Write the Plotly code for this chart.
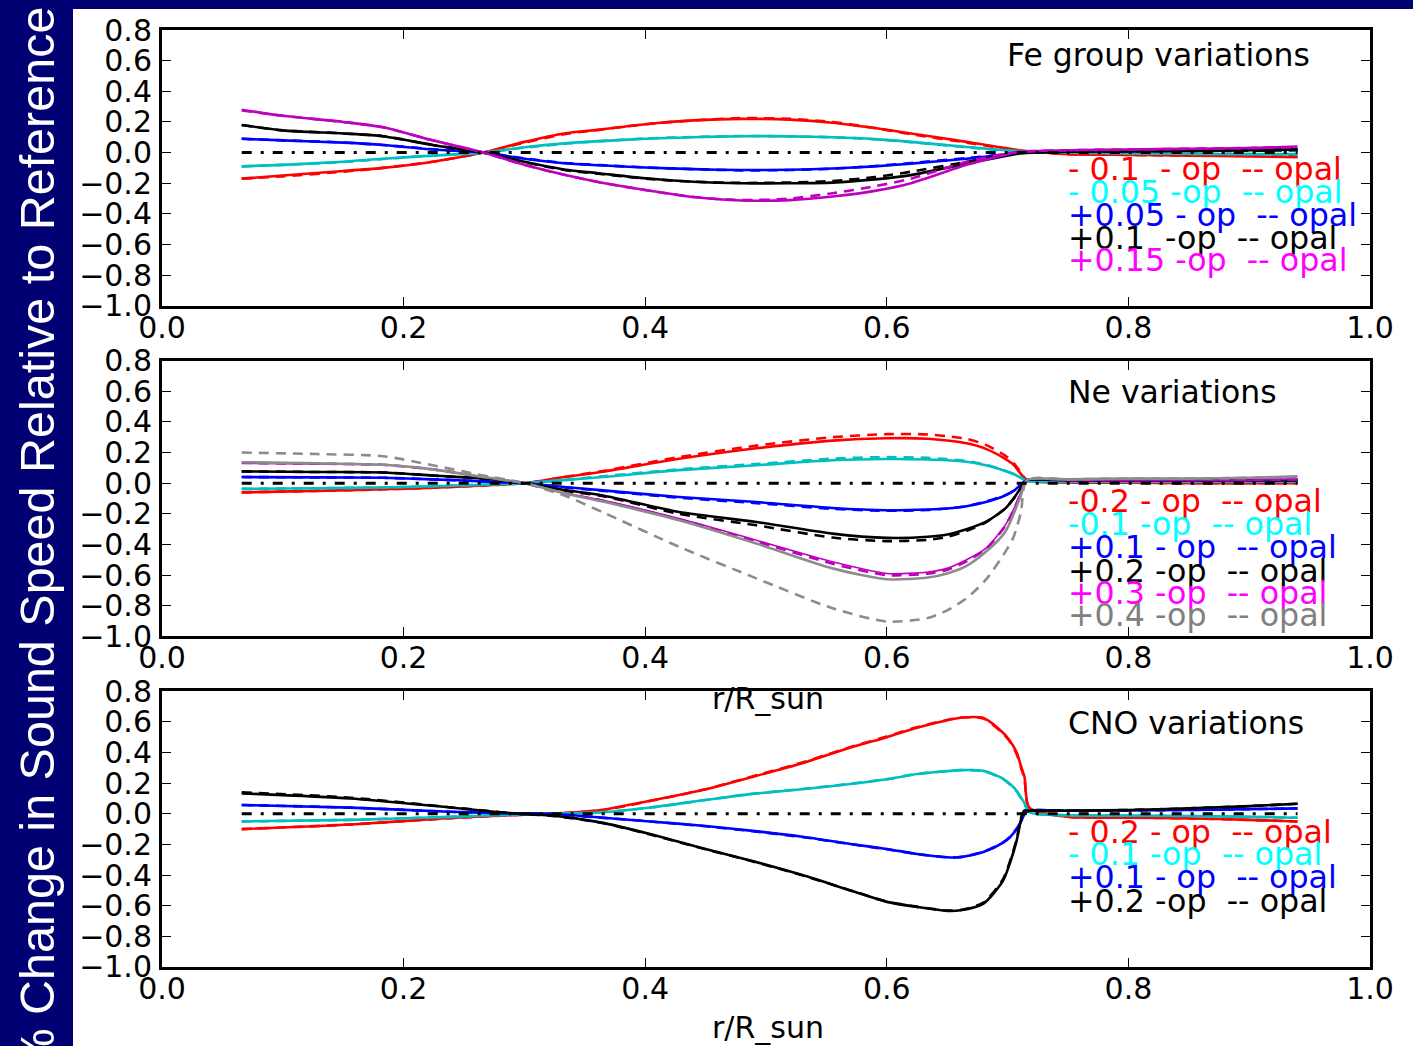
import plotly.graph_objects as go

# ---------------- data ----------------
X_TICKS = [0.0, 0.2, 0.4, 0.6, 0.8, 1.0]
Y_TICKS = [-1.0, -0.8, -0.6, -0.4, -0.2, 0.0, 0.2, 0.4, 0.6, 0.8]
ZERO_X = [0.066, 0.94]
ZERO_Y = [0.0, 0.0]

# Panel 1: Fe group variations
R_FE = [0.066, 0.1, 0.15, 0.183, 0.224, 0.266, 0.3, 0.333, 0.363, 0.4, 0.44, 0.48,
        0.52, 0.555, 0.59, 0.62, 0.666, 0.69, 0.71, 0.75, 0.8, 0.85, 0.9, 0.94]
FE_M010_OP = [-0.17, -0.15, -0.12, -0.10, -0.06, 0.0, 0.07, 0.125, 0.15, 0.185, 0.21, 0.22,
              0.215, 0.195, 0.16, 0.125, 0.07, 0.04, 0.015, -0.01, -0.015, -0.02, -0.025, -0.03]
FE_M010_OPAL = [-0.17, -0.155, -0.125, -0.10, -0.06, 0.0, 0.065, 0.12, 0.15, 0.185, 0.21, 0.225,
                0.22, 0.2, 0.16, 0.12, 0.065, 0.035, 0.012, -0.01, -0.015, -0.02, -0.02, -0.025]
FE_M005_OP = [-0.09, -0.08, -0.06, -0.04, -0.02, 0.0, 0.035, 0.06, 0.075, 0.09, 0.1, 0.107,
              0.106, 0.1, 0.088, 0.07, 0.037, 0.02, 0.01, 0.0, -0.005, -0.008, -0.01, -0.01]
FE_M005_OPAL = [-0.09, -0.08, -0.062, -0.042, -0.02, 0.0, 0.032, 0.058, 0.075, 0.092, 0.102, 0.108,
                0.106, 0.1, 0.087, 0.068, 0.035, 0.018, 0.008, 0.0, -0.005, -0.008, -0.01, -0.012]
FE_P005_OP = [0.09, 0.08, 0.065, 0.05, 0.02, 0.0, -0.04, -0.07, -0.083, -0.097, -0.108, -0.114,
              -0.112, -0.104, -0.09, -0.072, -0.04, -0.02, 0.0, 0.01, 0.012, 0.015, 0.02, 0.025]
FE_P005_OPAL = [0.09, 0.08, 0.066, 0.05, 0.022, 0.0, -0.038, -0.068, -0.082, -0.097, -0.108, -0.116,
                -0.114, -0.105, -0.088, -0.068, -0.036, -0.017, 0.0, 0.01, 0.012, 0.015, 0.018, 0.02]
FE_P010_OP = [0.18, 0.145, 0.125, 0.107, 0.05, 0.0, -0.06, -0.11, -0.136, -0.168, -0.19, -0.2,
              -0.2, -0.196, -0.175, -0.147, -0.072, -0.035, -0.005, 0.005, 0.008, 0.01, 0.015, 0.02]
FE_P010_OPAL = [0.18, 0.145, 0.125, 0.107, 0.05, 0.0, -0.062, -0.114, -0.14, -0.17, -0.19, -0.198,
                -0.195, -0.185, -0.16, -0.125, -0.06, -0.028, -0.003, 0.005, 0.008, 0.01, 0.012, 0.015]
FE_P015_OP = [0.28, 0.24, 0.2, 0.165, 0.08, 0.0, -0.08, -0.145, -0.195, -0.244, -0.29, -0.313,
              -0.31, -0.287, -0.25, -0.2, -0.08, -0.03, 0.005, 0.015, 0.02, 0.025, 0.03, 0.04]
FE_P015_OPAL = [0.275, 0.24, 0.2, 0.165, 0.08, 0.0, -0.08, -0.145, -0.195, -0.244, -0.29, -0.31,
                -0.3, -0.265, -0.22, -0.17, -0.06, -0.02, 0.005, 0.015, 0.02, 0.025, 0.03, 0.035]

# Panel 2: Ne variations
R_NE = [0.066, 0.128, 0.183, 0.224, 0.266, 0.30, 0.333, 0.365, 0.428, 0.492, 0.555, 0.60,
        0.634, 0.65, 0.666, 0.682, 0.698, 0.705, 0.711, 0.716, 0.75, 0.8, 0.85, 0.9, 0.94]
NE_M02_OP = [-0.06, -0.05, -0.04, -0.03, -0.015, 0.0, 0.04, 0.075, 0.159, 0.228, 0.278, 0.293,
             0.29, 0.278, 0.26, 0.224, 0.159, 0.12, 0.06, 0.02, 0.005, 0.003, 0.0, 0.0, 0.0]
NE_M02_OPAL = [-0.06, -0.05, -0.04, -0.03, -0.015, 0.0, 0.04, 0.08, 0.17, 0.245, 0.3, 0.32,
               0.318, 0.306, 0.29, 0.25, 0.18, 0.13, 0.07, 0.02, 0.005, 0.003, 0.0, 0.0, 0.0]
NE_M01_OP = [-0.037, -0.033, -0.028, -0.02, -0.01, 0.0, 0.02, 0.04, 0.085, 0.117, 0.15, 0.158,
             0.155, 0.15, 0.14, 0.117, 0.08, 0.06, 0.035, 0.015, 0.01, 0.01, 0.01, 0.01, 0.01]
NE_M01_OPAL = [-0.037, -0.033, -0.028, -0.02, -0.01, 0.0, 0.022, 0.045, 0.09, 0.125, 0.16, 0.17,
               0.165, 0.157, 0.145, 0.12, 0.082, 0.06, 0.035, 0.015, 0.01, 0.01, 0.01, 0.01, 0.01]
NE_P01_OP = [0.04, 0.038, 0.035, 0.025, 0.012, 0.0, -0.025, -0.047, -0.09, -0.123, -0.162, -0.177,
             -0.172, -0.165, -0.15, -0.123, -0.08, -0.05, -0.01, 0.02, 0.02, 0.02, 0.02, 0.02, 0.02]
NE_P01_OPAL = [0.04, 0.038, 0.035, 0.025, 0.012, 0.0, -0.027, -0.05, -0.095, -0.13, -0.168, -0.18,
               -0.175, -0.165, -0.15, -0.12, -0.078, -0.05, -0.01, 0.02, 0.02, 0.02, 0.02, 0.02, 0.02]
NE_P02_OP = [0.077, 0.073, 0.07, 0.05, 0.03, 0.0, -0.045, -0.08, -0.188, -0.253, -0.329, -0.357,
             -0.35, -0.335, -0.3, -0.253, -0.166, -0.1, -0.03, 0.02, 0.02, 0.02, 0.02, 0.02, 0.02]
NE_P02_OPAL = [0.077, 0.073, 0.07, 0.05, 0.03, 0.0, -0.05, -0.085, -0.2, -0.275, -0.355, -0.378,
               -0.37, -0.35, -0.31, -0.255, -0.165, -0.1, -0.03, 0.02, 0.02, 0.02, 0.02, 0.02, 0.02]
NE_P03_OP = [0.13, 0.125, 0.12, 0.09, 0.04, 0.0, -0.065, -0.112, -0.231, -0.372, -0.513, -0.589,
             -0.58, -0.556, -0.5, -0.426, -0.274, -0.17, -0.06, 0.02, 0.02, 0.02, 0.02, 0.02, 0.025]
NE_P03_OPAL = [0.132, 0.127, 0.12, 0.09, 0.04, 0.0, -0.066, -0.115, -0.236, -0.38, -0.525, -0.6,
               -0.59, -0.566, -0.51, -0.43, -0.28, -0.175, -0.065, 0.02, 0.02, 0.02, 0.02, 0.02, 0.025]
NE_P04_OP = [0.137, 0.13, 0.12, 0.09, 0.04, 0.0, -0.065, -0.12, -0.242, -0.394, -0.556, -0.627,
             -0.615, -0.589, -0.54, -0.448, -0.318, -0.2, -0.08, 0.02, 0.025, 0.03, 0.03, 0.035, 0.045]
NE_P04_OPAL = [0.2, 0.19, 0.176, 0.117, 0.05, 0.0, -0.08, -0.19, -0.415, -0.621, -0.816, -0.903,
               -0.88, -0.83, -0.751, -0.63, -0.45, -0.35, -0.19, 0.02, 0.025, 0.03, 0.03, 0.035, 0.04]

# Panel 3: CNO variations
R_CNO = [0.066, 0.156, 0.238, 0.294, 0.321, 0.363, 0.404, 0.45, 0.487, 0.53, 0.570, 0.60, 0.625,
         0.65, 0.661, 0.68, 0.696, 0.702, 0.7075, 0.7115, 0.714, 0.718, 0.75, 0.8, 0.85, 0.9, 0.94]
CNO_M02_OP = [-0.1, -0.07, -0.028, -0.008, 0.0, 0.024, 0.085, 0.16, 0.237, 0.33, 0.432, 0.5, 0.561,
              0.61, 0.627, 0.625, 0.53, 0.475, 0.4, 0.3, 0.24, 0.04, -0.02, -0.025, -0.03, -0.04, -0.05]
CNO_M02_OPAL = [-0.1, -0.07, -0.03, -0.008, 0.0, 0.022, 0.083, 0.16, 0.24, 0.335, 0.435, 0.505, 0.565,
                0.612, 0.628, 0.622, 0.525, 0.47, 0.39, 0.29, 0.23, 0.035, -0.02, -0.025, -0.03, -0.04, -0.05]
CNO_M01_OP = [-0.05, -0.04, -0.02, -0.005, 0.0, 0.009, 0.041, 0.09, 0.128, 0.16, 0.194, 0.225, 0.259,
              0.278, 0.285, 0.28, 0.23, 0.194, 0.15, 0.1, 0.07, 0.01, -0.01, -0.012, -0.015, -0.02, -0.026]
CNO_M01_OPAL = [-0.05, -0.04, -0.02, -0.005, 0.0, 0.009, 0.04, 0.09, 0.128, 0.162, 0.196, 0.226, 0.26,
                0.279, 0.285, 0.278, 0.228, 0.19, 0.145, 0.095, 0.065, 0.01, -0.01, -0.012, -0.015, -0.02, -0.026]
CNO_P01_OP = [0.057, 0.04, 0.013, 0.003, 0.0, -0.024, -0.05, -0.08, -0.11, -0.15, -0.197, -0.23, -0.262,
              -0.284, -0.283, -0.25, -0.19, -0.153, -0.1, -0.046, 0.0, 0.02, 0.02, 0.022, 0.025, 0.03, 0.035]
CNO_P01_OPAL = [0.057, 0.04, 0.013, 0.003, 0.0, -0.025, -0.05, -0.082, -0.112, -0.152, -0.198, -0.232, -0.263,
                -0.284, -0.282, -0.248, -0.188, -0.15, -0.098, -0.044, 0.0, 0.02, 0.02, 0.022, 0.025, 0.03, 0.035]
CNO_P02_OP = [0.133, 0.10, 0.041, 0.0, -0.01, -0.056, -0.132, -0.23, -0.305, -0.4, -0.5, -0.575, -0.608,
              -0.634, -0.63, -0.586, -0.44, -0.32, -0.175, -0.024, 0.02, 0.02, 0.02, 0.025, 0.035, 0.05, 0.065]
CNO_P02_OPAL = [0.14, 0.105, 0.043, 0.0, -0.012, -0.058, -0.135, -0.232, -0.307, -0.402, -0.5, -0.573, -0.606,
                -0.632, -0.628, -0.58, -0.43, -0.31, -0.165, -0.02, 0.02, 0.02, 0.02, 0.025, 0.035, 0.05, 0.065]

FE_LABELS = ["- 0.1  - op  -- opal", "- 0.05 -op  -- opal", "+0.05 - op  -- opal",
             "+0.1  -op  -- opal", "+0.15 -op  -- opal"]
NE_LABELS = ["-0.2 - op  -- opal", "-0.1 -op  -- opal", "+0.1 - op  -- opal",
             "+0.2 -op  -- opal", "+0.3 -op  -- opal", "+0.4 -op  -- opal"]
CNO_LABELS = ["- 0.2 - op  -- opal", "- 0.1 -op  -- opal", "+0.1 - op  -- opal", "+0.2 -op  -- opal"]
PANEL_TITLES = ["Fe group variations", "Ne variations", "CNO variations"]
X_TITLE = "r/R_sun"
Y_TITLE = "% Change in Sound Speed Relative to Reference"

# ---------------- styles ----------------
LINE_COLORS = {"red": "#ff0000", "cyan": "#00bfbf", "blue": "#0000ff",
               "black": "#000000", "magenta": "#bf00bf", "grey": "#8c8c8c"}
TEXT_COLORS = {"red": "#ff0000", "cyan": "#00ffff", "blue": "#0000ff",
               "black": "#000000", "magenta": "#ff00ff", "grey": "#808080"}
NAVY = "#000072"
FONT = "DejaVu Sans"

panels = [
    dict(x=R_FE, series=[("red", FE_M010_OP, FE_M010_OPAL), ("cyan", FE_M005_OP, FE_M005_OPAL),
                         ("blue", FE_P005_OP, FE_P005_OPAL), ("black", FE_P010_OP, FE_P010_OPAL),
                         ("magenta", FE_P015_OP, FE_P015_OPAL)],
         labels=FE_LABELS, label_y=[166, 189, 212, 235, 257], title=PANEL_TITLES[0],
         title_px=(1005, 51)),
    dict(x=R_NE, series=[("red", NE_M02_OP, NE_M02_OPAL), ("cyan", NE_M01_OP, NE_M01_OPAL),
                         ("blue", NE_P01_OP, NE_P01_OPAL), ("black", NE_P02_OP, NE_P02_OPAL),
                         ("magenta", NE_P03_OP, NE_P03_OPAL), ("grey", NE_P04_OP, NE_P04_OPAL)],
         labels=NE_LABELS, label_y=[499, 522, 545, 569, 591, 613], title=PANEL_TITLES[1],
         title_px=(1066, 390)),
    dict(x=R_CNO, series=[("red", CNO_M02_OP, CNO_M02_OPAL), ("cyan", CNO_M01_OP, CNO_M01_OPAL),
                          ("blue", CNO_P01_OP, CNO_P01_OPAL), ("black", CNO_P02_OP, CNO_P02_OPAL)],
         labels=CNO_LABELS, label_y=[831, 854, 877, 901], title=PANEL_TITLES[2],
         title_px=(1066, 722)),
]

W, H = 1413, 1046
ML, MR, MT, MB = 162, 43, 26, 79
PW, PH = W - ML - MR, H - MT - MB
PANEL_TOPS = [26, 358, 690]
PANEL_H = 277


def pxx(px):
    return (px - ML) / PW


def pxy(py):
    return (H - MB - py) / PH


fig = go.Figure()
annotations = []
layout_axes = {}

for i, p in enumerate(panels):
    n = "" if i == 0 else str(i + 1)
    xa, ya = "x" + n, "y" + n
    for cname, op, opal in p["series"]:
        lw = 1.6 if (i == 1 and cname == "magenta") else 2.6
        fig.add_trace(go.Scatter(x=p["x"], y=op, mode="lines", xaxis=xa, yaxis=ya,
                                 line=dict(color=LINE_COLORS[cname], width=lw,
                                           shape="spline", smoothing=0.7),
                                 showlegend=False, hoverinfo="skip"))
        fig.add_trace(go.Scatter(x=p["x"], y=opal, mode="lines", xaxis=xa, yaxis=ya,
                                 line=dict(color=LINE_COLORS[cname], width=2.6, dash="10px,7px",
                                           shape="spline", smoothing=0.7),
                                 showlegend=False, hoverinfo="skip"))
    fig.add_trace(go.Scatter(x=ZERO_X, y=ZERO_Y, mode="lines", xaxis=xa, yaxis=ya,
                             line=dict(color="black", width=3, dash="10px,9px,3px,9px"),
                             showlegend=False, hoverinfo="skip"))

    top = PANEL_TOPS[i]
    dom = [pxy(top + PANEL_H), pxy(top)]
    axis_common = dict(showline=True, linecolor="black", linewidth=3, mirror="ticks",
                       ticks="inside", ticklen=9, tickwidth=1, tickcolor="black",
                       showgrid=False, zeroline=False, tickformat=".1f",
                       tickfont=dict(family=FONT, size=30, color="black"))
    layout_axes["xaxis" + n] = dict(axis_common, range=[0, 1], tickvals=X_TICKS,
                                    domain=[0, 1], anchor=ya, ticklabelstandoff=-7)
    layout_axes["yaxis" + n] = dict(axis_common, range=[-1.0, 0.8], tickvals=Y_TICKS,
                                    domain=dom, anchor=xa, ticklabelstandoff=1)

    for lab, cname, ly in zip(p["labels"], [s[0] for s in p["series"]], p["label_y"]):
        annotations.append(dict(text=lab.replace(" ", "\u00a0"), xref="paper", yref="paper",
                                x=pxx(1066), y=pxy(ly), xanchor="left", yanchor="middle",
                                showarrow=False,
                                font=dict(family=FONT, size=31.7, color=TEXT_COLORS[cname])))
    tx, ty = p["title_px"]
    annotations.append(dict(text=p["title"], xref="paper", yref="paper", x=pxx(tx), y=pxy(ty),
                            xanchor="left", yanchor="middle", showarrow=False,
                            font=dict(family=FONT, size=31.5, color="black")))

# x-axis titles
for cy in [697, 1028]:
    annotations.append(dict(text=X_TITLE, xref="paper", yref="paper", x=pxx(768), y=pxy(cy),
                            xanchor="center", yanchor="middle", showarrow=False,
                            font=dict(family=FONT, size=30, color="black")))

# vertical label on navy strip
annotations.append(dict(text=Y_TITLE, xref="paper", yref="paper", x=pxx(37), y=pxy(1),
                        xanchor="center", yanchor="top", textangle=-90, showarrow=False,
                        font=dict(family="Liberation Sans, Arial", size=48.5, color="white")))

shapes = [
    dict(type="rect", xref="paper", yref="paper", x0=pxx(-20), x1=pxx(73),
         y0=pxy(H + 20), y1=pxy(-20), fillcolor=NAVY, line=dict(width=0), layer="above"),
    dict(type="rect", xref="paper", yref="paper", x0=pxx(-20), x1=pxx(W + 20),
         y0=pxy(5), y1=pxy(-20), fillcolor=NAVY, line=dict(width=0), layer="above"),
]

fig.update_layout(width=W, height=H, margin=dict(l=ML, r=MR, t=MT, b=MB, pad=0),
                  paper_bgcolor="white", plot_bgcolor="white",
                  font=dict(family=FONT, size=30, color="black"),
                  annotations=annotations, shapes=shapes, showlegend=False, **layout_axes)

fig.write_html("out.html", config={"displayModeBar": False},
               post_script="document.body.style.margin='0px';document.body.style.overflow='hidden';")
